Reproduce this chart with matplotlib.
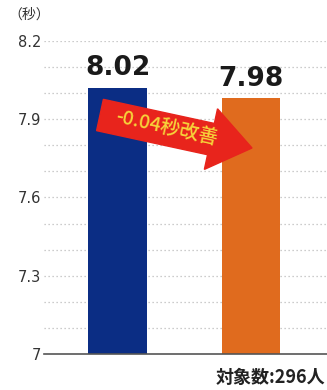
import numpy as np
import matplotlib
matplotlib.use('Agg')
import matplotlib.pyplot as plt
from matplotlib.patches import FancyArrow

plt.rcParams['font.family'] = ['Noto Sans CJK JP', 'DejaVu Sans']

# data
groups = ['前', '後']
times = [8.02, 7.98]
bar_colors = ['#0b2d84', '#e06b1e']
value_labels = ['8.02', '7.98']
yticks = [7, 7.3, 7.6, 7.9, 8.2]
ytick_labels = ['7', '7.3', '7.6', '7.9', '8.2']
grid_levels = [7.1, 7.2, 7.3, 7.4, 7.5, 7.6, 7.7, 7.8, 7.9, 8.0, 8.1, 8.2]

fig = plt.figure(figsize=(3.27, 3.90), dpi=100)
ax = fig.add_axes([0.135, 0.0923, 0.865, 0.8027])

x = np.arange(len(groups))
# dotted grid behind bars
for g in grid_levels:
    ax.axhline(g, color='#bcbcbc', linestyle=(0, (1, 2.2)), linewidth=0.9, zorder=0)

ax.bar(x, [t - 7 for t in times], bottom=7, width=0.44, color=bar_colors, zorder=2)

for xi, t, lab in zip(x, times, value_labels):
    ax.text(xi, t + 0.025, lab, ha='center', va='bottom', fontsize=19,
            fontweight='bold', family='DejaVu Sans', color='#1a1a1a', zorder=3)

ax.set_xlim(-0.55, 1.57)
ax.set_ylim(7, 8.2)
ax.set_xticks([])
ax.set_yticks(yticks)
ax.set_yticklabels(ytick_labels, family='DejaVu Sans')
ax.tick_params(axis='y', length=0, labelsize=10.5, labelcolor='#333333', pad=2)
for s in ['top', 'right', 'left']:
    ax.spines[s].set_visible(False)
ax.spines['bottom'].set_color('#555555')
ax.spines['bottom'].set_linewidth(1.2)

# red improvement arrow (in inches)
arr = FancyArrow(1.0, 2.75, 1.52, -0.33, width=0.32, head_width=0.62,
                 head_length=0.42, length_includes_head=True,
                 color='#e8241c', transform=fig.dpi_scale_trans, zorder=5)
fig.patches.append(arr)
fig.text(1.67 / 3.27, 2.62 / 3.90, '-0.04秒改善', rotation=-12.5, ha='center',
         va='center', fontsize=14, fontweight='medium', color='#f7d43a',
         rotation_mode='anchor', zorder=6)

fig.text(0.088, 0.962, '（秒）', ha='center', va='center', fontsize=10, color='#333333')
fig.text(0.995, 0.033, '対象数:296人', ha='right', va='center', fontsize=13,
         fontweight='bold', color='#222222')

fig.savefig('out.png', dpi=100)
